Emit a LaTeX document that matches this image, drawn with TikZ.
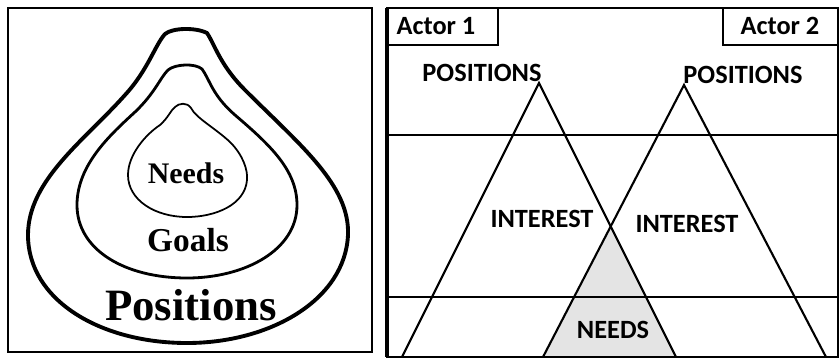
\documentclass[tikz,border=0pt]{standalone}
\usepackage{fontspec}
\usepackage{tikz}
\newfontfamily\serifbold{Liberation Serif}
\newfontfamily\sansbold{Carlito}[BoldFont={Carlito Bold}]
\definecolor{needsgray}{RGB}{228, 228, 228}

\begin{document}
\begin{tikzpicture}[
    x=0.02cm, y=-0.02cm,
    frame/.style={draw=black, line width=1.6pt},
    layer/.style={draw=black, line width=1.2pt},
    drop/.style={draw=black, line join=round},
    onionlabel/.style={font=\serifbold\bfseries, inner sep=0pt},
    tag/.style={font=\sansbold\bfseries\fontsize{15}{18}\selectfont, inner sep=0pt},
    leg/.style={draw=black, line width=1.2pt}
]
    \useasboundingbox (0,0) rectangle (840,360);

    % left panel: the onion
    \draw[frame] (8,8) rectangle (372,352);
    \draw[drop, line width=2.2pt] (165,34) .. controls (172,28) and (195,27) .. (207,33)
        .. controls (215,45) and (220,65) .. (245,90)
        .. controls (300,145) and (350,185) .. (348,235)
        .. controls (345,300) and (270,343) .. (187,343)
        .. controls (100,343) and (28,300) .. (28,235)
        .. controls (28,180) and (85,140) .. (125,95)
        .. controls (148,70) and (155,45) .. (165,34) -- cycle;
    \draw[drop, line width=1.6pt] (168,70) .. controls (175,64) and (195,63) .. (202,69)
        .. controls (210,80) and (212,95) .. (235,115)
        .. controls (270,145) and (297,170) .. (297,205)
        .. controls (297,250) and (245,278) .. (187,278)
        .. controls (125,278) and (77,250) .. (77,205)
        .. controls (77,165) and (110,135) .. (135,112)
        .. controls (155,93) and (160,78) .. (168,70) -- cycle;
    \draw[drop, line width=1pt] (175,107) .. controls (179,103) and (187,102) .. (191,108)
        .. controls (196,118) and (215,128) .. (230,142)
        .. controls (243,155) and (248,170) .. (247,180)
        .. controls (245,205) and (215,217) .. (187,217)
        .. controls (155,217) and (128,200) .. (128,175)
        .. controls (128,155) and (145,135) .. (160,125)
        .. controls (168,118) and (171,110) .. (175,107) -- cycle;

    \node[onionlabel, font=\serifbold\bfseries\fontsize{17}{20}\selectfont] (needs) at (186,173) {Needs};
    \node[onionlabel, font=\serifbold\bfseries\fontsize{19}{22}\selectfont] (goals) at (188,240) {Goals};
    \node[onionlabel, font=\serifbold\bfseries\fontsize{25.5}{30}\selectfont] (positions) at (191,305) {Positions};

    % right panel: two actors
    \coordinate (apexA) at (539,83);
    \coordinate (apexB) at (684,85);
    \coordinate (footAl) at (402,357);
    \coordinate (footAr) at (676,357);
    \coordinate (footBl) at (543,357);
    \coordinate (footBr) at (826,357);
    \coordinate (cross) at (611,227);

    \fill[needsgray] (cross) -- (footBl) -- (footAr) -- cycle;
    \draw[layer] (387,135) -- (838,135);
    \draw[layer] (387,297) -- (838,297);
    \draw[leg] (footAl) -- (apexA) -- (footAr);
    \draw[leg] (footBl) -- (apexB) -- (footBr);
    \draw[frame] (387,8) rectangle (838,357);
    \draw[black, line width=2.4pt] (387,8) -- (387,357);
    \draw[frame] (387,8) rectangle (498,45);
    \draw[frame] (723,8) rectangle (838,45);

    \node[tag] (actor1) at (436,26) {Actor 1};
    \node[tag] (actor2) at (780,26) {Actor 2};
    \node[tag] (posA) at (482,73) {POSITIONS};
    \node[tag] (posB) at (743,75) {POSITIONS};
    \node[tag] (intA) at (542,219) {INTEREST};
    \node[tag] (intB) at (687,224) {INTEREST};
    \node[tag] (needsB) at (613,330) {NEEDS};
\end{tikzpicture}
\end{document}
